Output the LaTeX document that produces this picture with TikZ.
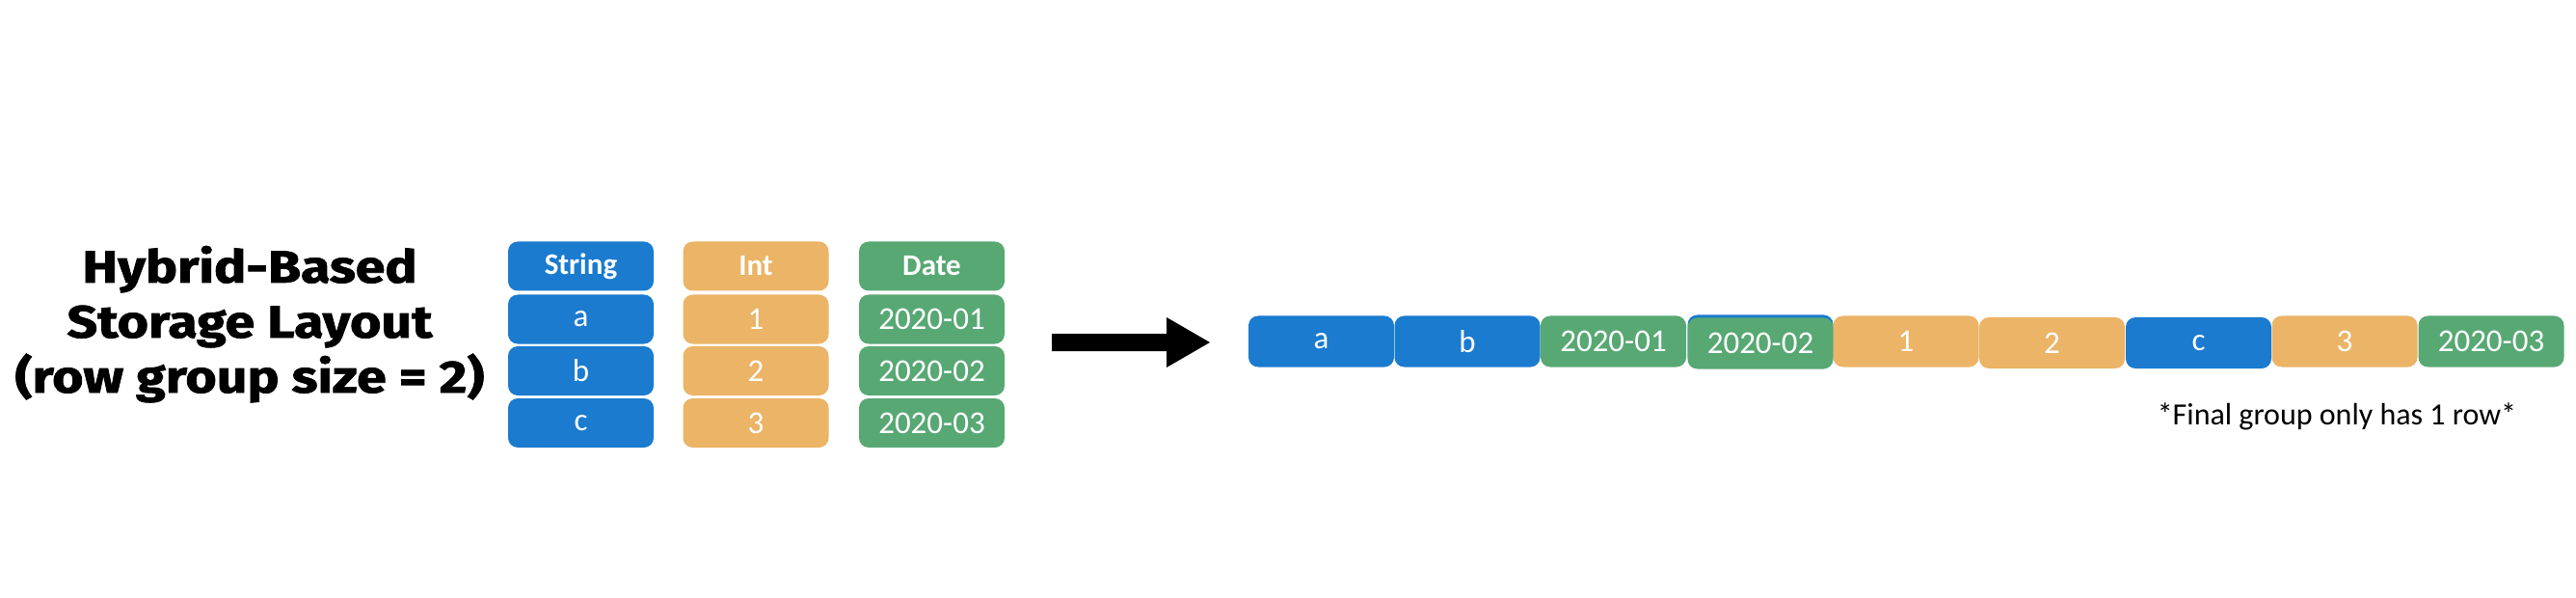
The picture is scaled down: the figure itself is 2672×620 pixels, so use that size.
\documentclass[tikz,border=0pt]{standalone}
\usepackage{fontspec}
\setmainfont{Carlito}
\newfontfamily\titlefont[BoldFeatures={FakeBold=1.5}]{Fira Sans}
\definecolor{cblue}{RGB}{26,123,207}
\definecolor{corange}{RGB}{235,180,102}
\definecolor{cgreen}{RGB}{88,168,116}
\tikzset{
  cell/.style={rounded corners=10pt, minimum width=151pt, minimum height=51pt, inner sep=0pt, text=white, font=\fontsize{33}{36}\selectfont},
  head/.style={cell, font=\fontsize{31}{34}\selectfont\bfseries},
  strip/.style={cell, minimum height=53pt},
  sblue/.style={fill=cblue}, sorange/.style={fill=corange}, sgreen/.style={fill=cgreen},
  ttl/.style={anchor=base, inner sep=0pt, font=\titlefont\fontsize{47}{57}\selectfont\bfseries},
}
\newcommand\wide[1]{\scalebox{1.18}[1]{#1}}
\begin{document}
\begin{tikzpicture}[x=1pt,y=-1pt]
\useasboundingbox (0,0) rectangle (2672,620);
% title
\node[ttl] (t1) at (259,293) {\wide{Hybrid-Based}};
\node[ttl] (t2) at (259,350) {\wide{Storage Layout}};
\node[ttl] (t3) at (259,407) {\wide{(row group size = 2)}};
% table
\node[head,sblue] (hS) at (602.5,276) {String};
\node[head,sorange] (hI) at (784,276) {Int};
\node[head,sgreen] (hD) at (966.5,276) {Date};
\node[cell,sblue] (s1) at (602.5,331) {a};
\node[cell,sblue] (s2) at (602.5,384.5) {b};
\node[cell,sblue] (s3) at (602.5,438.5) {c};
\node[cell,sorange] (i1) at (784,331) {1};
\node[cell,sorange] (i2) at (784,384.5) {2};
\node[cell,sorange] (i3) at (784,438.5) {3};
\node[cell,sgreen] (d1) at (966.5,331) {2020-01};
\node[cell,sgreen] (d2) at (966.5,384.5) {2020-02};
\node[cell,sgreen] (d3) at (966.5,438.5) {2020-03};
% arrow
\fill (1091,346) -- (1210,346) -- (1210,329) -- (1255,355) -- (1210,381) -- (1210,364) -- (1091,364) -- cycle;
% strip
\node[strip,sblue] (ra) at (1370.5,354) {a};
\node[strip,sblue] (rb) at (1522,354) {b};
\node[strip,sgreen] (rd1) at (1673.5,354) {2020-01};
\node[strip,sblue] (rbg) at (1826,353) {};
\node[strip,sgreen] (rd2) at (1826,356) {2020-02};
\node[strip,sorange] (r1) at (1977,354) {1};
\node[strip,sorange] (r2) at (2128.5,355.5) {2};
\node[strip,sblue] (rc) at (2280.5,355.5) {c};
\node[strip,sorange] (r3) at (2432,354) {3};
\node[strip,sgreen] (rd3) at (2584,354) {2020-03};
% note
\node[font=\fontsize{32}{36}\selectfont, anchor=base] (note) at (2424,440) {*Final group only has 1 row*};
\end{tikzpicture}
\end{document}
